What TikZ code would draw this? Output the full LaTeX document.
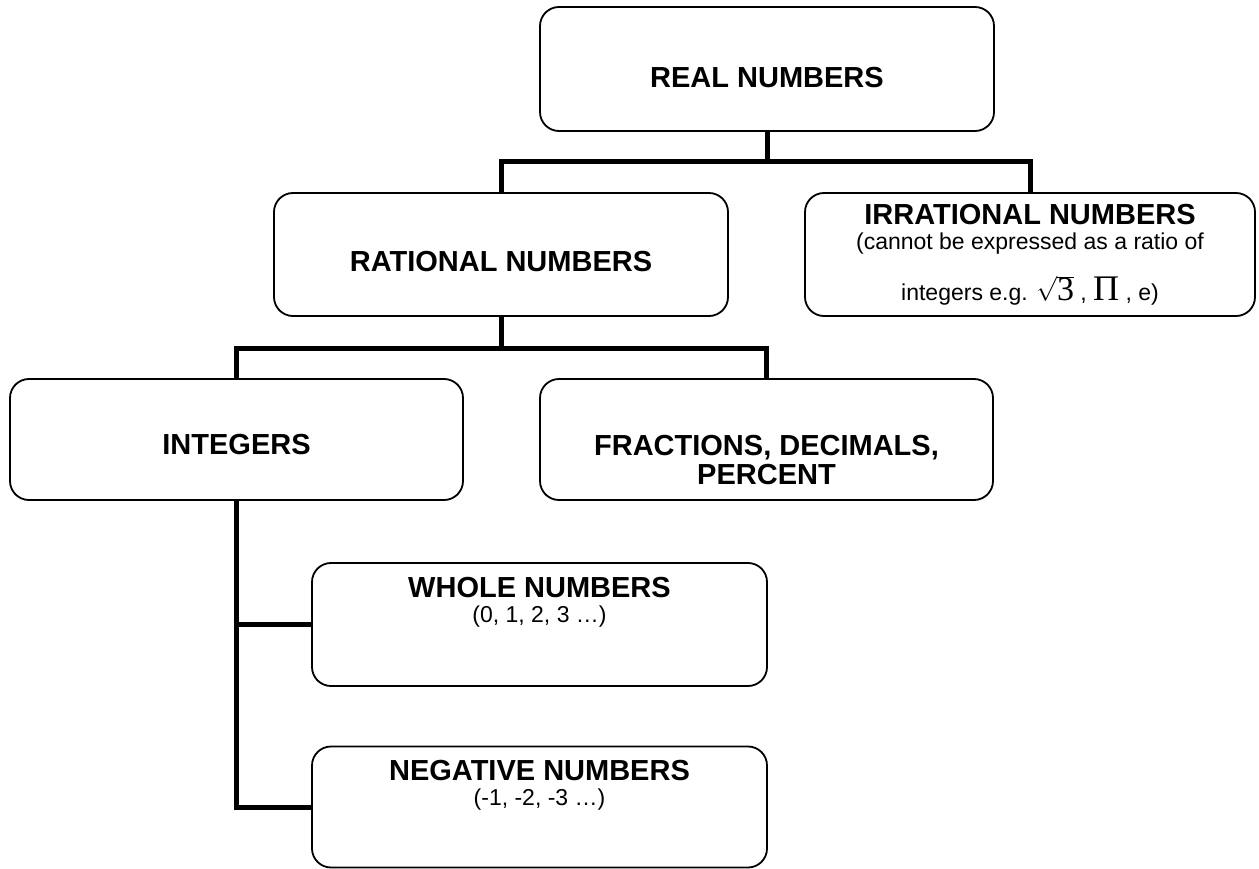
\documentclass[tikz,border=0pt]{standalone}
\usepackage{fontspec}
\setmainfont{Liberation Sans}
\newfontfamily\serifF{Liberation Serif}
\usepackage{graphicx}
\begin{document}
\begin{tikzpicture}[x=1pt,y=-1pt,
  box/.style={draw, line width=1.8pt, rounded corners=19pt, fill=white, inner sep=0pt},
  conn/.style={line width=5pt, line join=miter},
  head/.style={font=\fontsize{29}{33}\selectfont\bfseries, anchor=base, inner sep=0pt},
  sub/.style={font=\fontsize{23}{27}\selectfont, anchor=base, inner sep=0pt}]
\useasboundingbox (0,0) rectangle (1259,869);
% boxes
\node[box, minimum width=454pt, minimum height=124pt] (real) at (767,69) {};
\node[box, minimum width=454pt, minimum height=123pt] (rational) at (501,254.5) {};
\node[box, minimum width=450pt, minimum height=123pt] (irrational) at (1030,254.5) {};
\node[box, minimum width=453pt, minimum height=121pt] (integers) at (236.5,439.5) {};
\node[box, minimum width=453pt, minimum height=121pt] (fractions) at (766.5,439.5) {};
\node[box, minimum width=455pt, minimum height=123pt] (whole) at (539.5,624.5) {};
\node[box, minimum width=455pt, minimum height=121pt] (negative) at (539.5,807) {};
% connectors
\coordinate (j1) at (767,162);
\coordinate (j2) at (501,348);
\draw[conn] (real.south) -- (j1);
\draw[conn] (rational.north) |- (j1) -| (irrational.north);
\draw[conn] (rational.south) -- (j2);
\draw[conn] (integers.north) |- (j2) -| (fractions.north);
\draw[conn] (integers.south) |- (negative.west);
\draw[conn] (integers.south |- whole.west) -- (whole.west);
% texts
\node[head] (realT) at (767,88) {REAL NUMBERS};
\node[head] (ratT) at (501,272) {RATIONAL NUMBERS};
\node[head] (irrT) at (1030,225) {IRRATIONAL NUMBERS};
\node[sub] (irrT2) at (1030,250) {(cannot be expressed as a ratio of};
\node[sub] (irrT3) at (1030,301) {integers e.g. $\sqrt{\hbox{\serifF\fontsize{34}{34}\selectfont 3}}$ , {\serifF\fontsize{36}{36}\selectfont Π} , e)};
\node[head] (intT) at (236.5,454) {INTEGERS};
\node[head] (fracT) at (766.5,455) {FRACTIONS, DECIMALS,};
\node[head] (fracT2) at (766.5,484) {PERCENT};
\node[head] (wholeT) at (539.5,597) {WHOLE NUMBERS};
\node[sub] (wholeT2) at (539.5,622) {(0, 1, 2, 3 …)};
\node[head] (negT) at (539.5,780) {NEGATIVE NUMBERS};
\node[sub] (negT2) at (539.5,805) {(-1, -2, -3 …)};
\end{tikzpicture}
\end{document}
